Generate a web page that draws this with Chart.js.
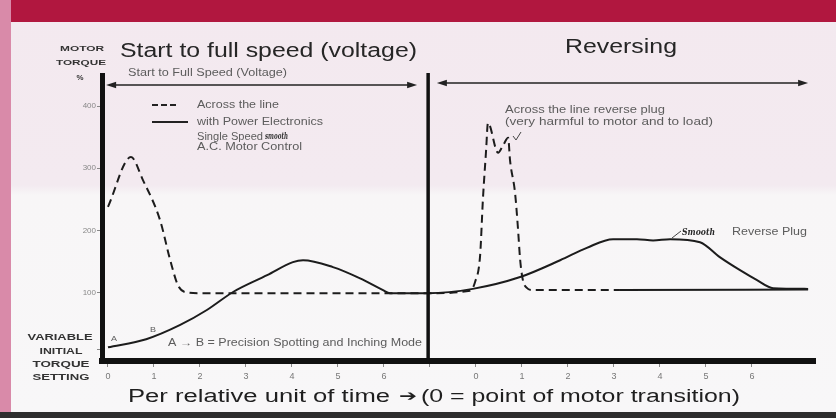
<!DOCTYPE html>
<html>
<head>
<meta charset="utf-8">
<script src="https://cdn.jsdelivr.net/npm/chart.js@4.4.1/dist/chart.umd.min.js"></script>
<style>
body { margin: 0; width: 836px; height: 418px; overflow: hidden; position: relative;
  background: linear-gradient(180deg, #f3e9ef 0px, #f3eaf0 185px, #f8f6f7 195px, #f8f7f8 418px); }
#band { position: absolute; left: 0; top: 0; width: 836px; height: 22px; background: #b1173f; }
#strip { position: absolute; left: 0; top: 0; width: 11px; height: 418px; background: #d98aa9; }
#foot { position: absolute; left: 0; top: 412px; width: 836px; height: 6px; background: #2e2e2e; }
canvas { position: absolute; left: 0; top: 0; }
</style>
</head>
<body>
<div id="band"></div>
<div id="strip"></div>
<div id="foot"></div>
<canvas id="torqueChart" width="836" height="418"></canvas>
<script>
// relative time: 0..7 is start to full speed, 7..15 is reversing (shown again as 0..6)
var timeTicks = [0, 1, 2, 3, 4, 5, 6, 7, 8, 9, 10, 11, 12, 13, 14];
var timeTickLabels = ['0', '1', '2', '3', '4', '5', '6', '', '0', '1', '2', '3', '4', '5', '6'];
var torqueTicks = [8, 100, 200, 300, 400];
var torqueTickLabels = ['', '100', '200', '300', '400'];

// across the line start, then across the line reverse plug (dashed)
var acrossT = [0, 0.5, 0.76, 1.13, 1.35, 1.52, 1.67, 2.0, 6.96, 7.87, 7.98, 8.09, 8.15, 8.22, 8.26,
  8.48, 8.59, 8.7, 8.74, 8.85, 8.91, 8.96, 9.02, 9.1, 9.24, 11.13, 15.22];
var acrossTorque = [238, 318, 281, 217, 153, 112, 101, 99, 99, 103, 117, 160, 249, 329, 373,
  325, 337, 349, 313, 260, 206, 153, 120, 108, 104, 104, 105];

// power electronics, smooth start and smooth reverse plug (solid)
var smoothT = [0, 0.83, 1.57, 2.15, 2.72, 3.46, 4.02, 4.24, 4.89, 5.48, 5.98, 6.13, 6.96, 7.93,
  8.96, 9.83, 10.41, 10.98, 11.5, 11.85, 12.22, 12.87, 13.3, 13.74, 14.11, 14.46, 15.22];
var smoothTorque = [12, 25, 48, 72, 101, 128, 149, 152, 141, 123, 104, 99, 99, 106,
  125, 152, 172, 186, 186, 184, 186, 181, 157, 136, 120, 107, 106];

var transitionT = 6.96;
var settledT = 11.13;   // after this the across the line trace is drawn solid
var arrowTorque = 434;

function pts(xs, ys) {
  return xs.map(function (x, i) { return { x: x, y: ys[i] }; });
}

function fitText(ctx, text, x, y, w, font, color, align) {
  ctx.save();
  ctx.font = font;
  ctx.fillStyle = color;
  ctx.textAlign = 'left';
  ctx.textBaseline = 'alphabetic';
  var nat = ctx.measureText(text).width;
  var left = align === 'center' ? x - w / 2 : x;
  ctx.translate(left, y);
  ctx.scale(w / nat, 1);
  ctx.fillText(text, 0, 0);
  ctx.restore();
}

function arrow(ctx, x1, x2, y) {
  ctx.save();
  ctx.strokeStyle = '#222';
  ctx.fillStyle = '#222';
  ctx.lineWidth = 1.6;
  ctx.beginPath();
  ctx.moveTo(x1 + 4, y);
  ctx.lineTo(x2 - 4, y);
  ctx.stroke();
  [[x1, 1], [x2, -1]].forEach(function (a) {
    ctx.beginPath();
    ctx.moveTo(a[0], y);
    ctx.lineTo(a[0] + a[1] * 10, y - 3.2);
    ctx.lineTo(a[0] + a[1] * 10, y + 3.2);
    ctx.closePath();
    ctx.fill();
  });
  ctx.restore();
}

var SANS = '"Liberation Sans", Arial, sans-serif';
var grey = '#5c5c5c';

var annotations = {
  id: 'annotations',
  afterDatasetsDraw: function (chart) {
    var ctx = chart.ctx;
    var xs = chart.scales.x, ys = chart.scales.y;
    var area = chart.chartArea;

    // transition line
    var tx = xs.getPixelForValue(transitionT);
    ctx.save();
    ctx.strokeStyle = '#111';
    ctx.lineWidth = 3.5;
    ctx.beginPath();
    ctx.moveTo(tx, area.top - 2);
    ctx.lineTo(tx, area.bottom);
    ctx.stroke();
    ctx.restore();

    // span arrows
    var ay = ys.getPixelForValue(arrowTorque);
    arrow(ctx, xs.getPixelForValue(-0.04), xs.getPixelForValue(6.72), ay);
    arrow(ctx, xs.getPixelForValue(7.15), xs.getPixelForValue(15.22), ay - 2);

    // titles
    fitText(ctx, 'Start to full speed (voltage)', 120, 57, 297, '20px ' + SANS, '#262626');
    fitText(ctx, 'Reversing', 565, 53, 112, '21px ' + SANS, '#262626');
    fitText(ctx, 'Per relative unit of time', 128, 402, 262, '18px ' + SANS, '#1f1f1f');
    fitText(ctx, '\u2794', 399, 401, 18, 'bold 15px "DejaVu Sans", sans-serif', '#1f1f1f');
    fitText(ctx, '(0 = point of motor transition)', 421, 402, 319, '18px ' + SANS, '#1f1f1f');

    // y axis caption
    fitText(ctx, 'MOTOR', 82, 51, 44, 'bold 8px ' + SANS, '#333', 'center');
    fitText(ctx, 'TORQUE', 81, 65, 50, 'bold 8px ' + SANS, '#333', 'center');
    fitText(ctx, '%', 80, 80, 7, 'bold 8px ' + SANS, '#333', 'center');
    fitText(ctx, 'VARIABLE', 60, 340, 65, 'bold 9px ' + SANS, '#333', 'center');
    fitText(ctx, 'INITIAL', 61, 354, 43, 'bold 9px ' + SANS, '#333', 'center');
    fitText(ctx, 'TORQUE', 61, 367, 57, 'bold 9px ' + SANS, '#333', 'center');
    fitText(ctx, 'SETTING', 61, 380, 57, 'bold 9px ' + SANS, '#333', 'center');

    // section caption
    fitText(ctx, 'Start to Full Speed (Voltage)', 128, 76, 159, '10px ' + SANS, grey);

    // legend
    ctx.save();
    ctx.strokeStyle = '#222';
    ctx.lineWidth = 2;
    ctx.setLineDash([6, 3]);
    ctx.beginPath(); ctx.moveTo(152, 105); ctx.lineTo(177, 105); ctx.stroke();
    ctx.setLineDash([]);
    ctx.beginPath(); ctx.moveTo(152, 122); ctx.lineTo(188, 122); ctx.stroke();
    ctx.restore();
    fitText(ctx, 'Across the line', 197, 108, 82, '10px ' + SANS, grey);
    fitText(ctx, 'with Power Electronics', 197, 125, 126, '10px ' + SANS, grey);
    fitText(ctx, 'Single Speed', 197, 140, 66, '10px ' + SANS, grey);
    fitText(ctx, 'smooth', 265, 139, 23, 'italic bold 10px "DejaVu Serif", serif', '#333');
    fitText(ctx, 'A.C. Motor Control', 197, 150, 105, '10px ' + SANS, grey);

    // reverse plug notes
    fitText(ctx, 'Across the line reverse plug', 505, 113, 160, '10px ' + SANS, grey);
    fitText(ctx, '(very harmful to motor and to load)', 505, 125, 208, '10px ' + SANS, grey);
    fitText(ctx, 'Smooth', 682, 235, 33, 'italic bold 10px "DejaVu Serif", serif', '#2a2a2a');
    fitText(ctx, 'Reverse Plug', 732, 235, 75, '10px ' + SANS, grey);
    ctx.save();
    ctx.strokeStyle = '#444';
    ctx.lineWidth = 1;
    ctx.beginPath(); ctx.moveTo(513, 136); ctx.lineTo(516, 140); ctx.lineTo(521, 132); ctx.stroke();
    ctx.beginPath(); ctx.moveTo(672, 238); ctx.lineTo(681, 231); ctx.stroke();
    ctx.restore();

    // precision spotting
    fitText(ctx, 'A', 111, 341, 6, '8px ' + SANS, grey);
    fitText(ctx, 'B', 150, 332, 6, '8px ' + SANS, grey);
    fitText(ctx, 'A \u2192 B = Precision Spotting and Inching Mode', 168, 346, 254, '10px ' + SANS, grey);
  }
};

var ctx = document.getElementById('torqueChart').getContext('2d');
var myChart = new Chart(ctx, {
  type: 'line',
  data: {
    datasets: [{
      label: 'Across the line',
      data: pts(acrossT, acrossTorque),
      borderColor: '#1c1c1c',
      borderWidth: 2,
      borderDash: [8, 5],
      pointRadius: 0,
      cubicInterpolationMode: 'monotone',
      segment: {
        borderDash: function (c) { return c.p0.parsed.x >= settledT ? [] : undefined; }
      }
    }, {
      label: 'with Power Electronics',
      data: pts(smoothT, smoothTorque),
      borderColor: '#1c1c1c',
      borderWidth: 2,
      pointRadius: 0,
      cubicInterpolationMode: 'monotone'
    }]
  },
  options: {
    responsive: false,
    animation: false,
    layout: { padding: { left: 0, top: 75, right: 21, bottom: 0 } },
    plugins: {
      legend: { display: false },
      tooltip: { enabled: false }
    },
    scales: {
      x: {
        type: 'linear',
        min: -0.13,
        max: 15.37,
        afterFit: function (s) { s.height = 57; },
        afterBuildTicks: function (s) { s.ticks = timeTicks.map(function (v) { return { value: v }; }); },
        ticks: {
          autoSkip: false,
          maxRotation: 0,
          padding: 4,
          color: '#777',
          font: { size: 9, family: 'Liberation Sans' },
          callback: function (v) { return timeTickLabels[timeTicks.indexOf(v)]; }
        },
        grid: { drawOnChartArea: false, tickLength: 6, color: '#888' },
        border: { width: 6, color: '#111' }
      },
      y: {
        min: -10,
        max: 450,
        afterFit: function (s) { s.width = 102; },
        afterBuildTicks: function (s) { s.ticks = torqueTicks.map(function (v) { return { value: v }; }); },
        ticks: {
          padding: 1,
          color: '#888',
          font: { size: 8, family: 'Liberation Sans' },
          callback: function (v) { return torqueTickLabels[torqueTicks.indexOf(v)]; }
        },
        grid: { drawOnChartArea: false, tickLength: 5, color: '#888' },
        border: { width: 5, color: '#111' }
      }
    }
  },
  plugins: [annotations]
});
</script>
</body>
</html>
